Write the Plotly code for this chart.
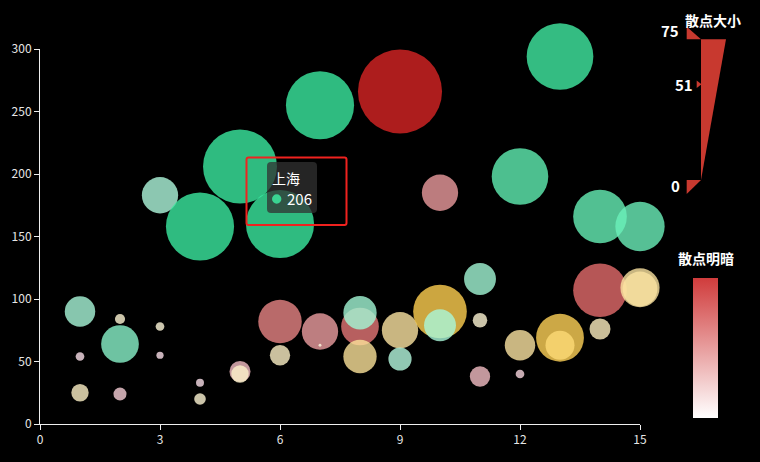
import plotly.graph_objects as go

# ---------------- data ----------------
# day index, AQI value, size value (散点大小 dimension), lightness value (散点明暗 dimension, 0..1)
sh_x = [1, 2, 3, 4, 5, 6, 7, 8, 9, 10, 11, 12, 13, 14, 15]
sh_y = [90, 64, 183, 158, 206, 160, 255, 89, 52, 79, 116, 198, 294, 166, 158]
sh_size = [21, 26, 25, 47, 51, 47, 47, 23, 16, 22, 22, 39, 46, 37, 34]
sh_light = [0.1, 0.35, 0.05, 1.0, 1.0, 1.0, 1.0, 0.15, 0.0, 0.1, 0.15, 0.7, 0.95, 0.65, 0.6]

bj_x = [1, 2, 3, 4, 5, 6, 7, 8, 9, 10, 11, 12, 14]
bj_y = [54, 24, 55, 33, 42, 82, 74, 78, 266, 185, 38, 40, 107]
bj_size = [6, 9, 5, 5.5, 14.5, 30, 25, 26, 58, 25, 14, 6, 37]
bj_light = [0.0, 0.1, 0.0, 0.0, 0.2, 0.54, 0.39, 0.6, 1.0, 0.41, 0.2, 0.05, 0.66]

gz_x = [1, 2, 3, 4, 5, 6, 7, 8, 9, 10, 11, 12, 13, 13, 14, 15, 15]
gz_y = [25, 84, 78, 20, 40, 55, 63, 54, 75, 90, 83, 63, 69, 63, 76, 109, 108]
gz_size = [12, 7, 6, 8, 12, 14, 2, 23, 25, 37, 10, 21, 33, 20, 14.5, 27, 24]
gz_light = [0.2, 0.1, 0.05, 0.1, 0.15, 0.2, 0.0, 0.5, 0.45, 1.0, 0.1, 0.45, 0.95, 0.75, 0.25, 0.45, 0.45]

x_ticks = [0, 3, 6, 9, 12, 15]
y_ticks = [0, 50, 100, 150, 200, 250, 300]

size_min, size_max, size_hover = 0, 75, 51
tooltip_name, tooltip_value = "上海", 206

# ---------------- figure ----------------
W, H = 760, 462
L, R, T, B = 40, 120, 49, 38
SIZE_SCALE = 1.45  # px diameter per size unit


def px(x):
    return (x - L) / (W - L - R)


def py(y):
    return (H - B - y) / (H - T - B)


FONT = "Noto Sans CJK SC"

fig = go.Figure()


def add_series(name, xs, ys, sizes, lights, scale):
    fig.add_trace(go.Scatter(
        x=xs, y=ys, name=name, mode="markers", cliponaxis=False,
        marker=dict(size=sizes, sizemode="diameter", sizeref=1 / SIZE_SCALE,
                    color=lights, colorscale=scale, cmin=0, cmax=1,
                    showscale=False, opacity=0.8, line=dict(width=0)),
        showlegend=False,
    ))


add_series("北京", bj_x, bj_y, bj_size, bj_light,
           [[0, "#fadee8"], [0.5, "#e88c8c"], [1, "#d82424"]])
add_series("广州", gz_x, gz_y, gz_size, gz_light,
           [[0, "#fffae1"], [0.5, "#fbe29a"], [1, "#ffd050"]])
add_series("上海", sh_x, sh_y, sh_size, sh_light,
           [[0, "#b5fae0"], [1, "#3beaa0"]])

# colour-lightness legend bar (散点明暗)
fig.add_trace(go.Scatter(
    x=[None], y=[None], mode="markers", showlegend=False, hoverinfo="skip",
    marker=dict(color=[0], colorscale=[[0, "#ffffff"], [1, "#d03c3c"]], cmin=0, cmax=1,
                showscale=True,
                colorbar=dict(x=px(693), xanchor="left", y=py(418), yanchor="bottom",
                              len=140 / (H - T - B), lenmode="fraction",
                              thickness=25, thicknessmode="pixels",
                              xpad=0, ypad=0, outlinewidth=0,
                              showticklabels=False, ticks="")),
))

shapes = []
RED = "#c8392f"
# size legend wedge
shapes.append(dict(type="path", xref="paper", yref="paper",
                   path=f"M {px(701)} {py(39.3)} L {px(726)} {py(39.3)} L {px(701)} {py(180)} Z",
                   fillcolor=RED, line=dict(width=0), layer="above"))
# handles
shapes.append(dict(type="path", xref="paper", yref="paper",
                   path=f"M {px(686.7)} {py(26.7)} L {px(686.7)} {py(39.3)} L {px(701)} {py(39.3)} Z",
                   fillcolor=RED, line=dict(width=0)))
shapes.append(dict(type="path", xref="paper", yref="paper",
                   path=f"M {px(686.7)} {py(180)} L {px(701)} {py(180)} L {px(686.7)} {py(194)} Z",
                   fillcolor=RED, line=dict(width=0)))
# hover indicator
y_ind = 180 - (size_hover - size_min) / (size_max - size_min) * (180 - 39.3)
shapes.append(dict(type="path", xref="paper", yref="paper",
                   path=f"M {px(696.7)} {py(y_ind - 3.8)} L {px(701.5)} {py(y_ind)} L {px(696.7)} {py(y_ind + 3.8)} Z",
                   fillcolor=RED, line=dict(width=0)))


def rounded(x0, y0, x1, y1, r):
    return (f"M {px(x0 + r)} {py(y0)} L {px(x1 - r)} {py(y0)} Q {px(x1)} {py(y0)} {px(x1)} {py(y0 + r)} "
            f"L {px(x1)} {py(y1 - r)} Q {px(x1)} {py(y1)} {px(x1 - r)} {py(y1)} "
            f"L {px(x0 + r)} {py(y1)} Q {px(x0)} {py(y1)} {px(x0)} {py(y1 - r)} "
            f"L {px(x0)} {py(y0 + r)} Q {px(x0)} {py(y0)} {px(x0 + r)} {py(y0)} Z")


# tooltip box
shapes.append(dict(type="path", xref="paper", yref="paper", path=rounded(267, 162, 317, 213, 4),
                   fillcolor="rgba(50,50,50,0.75)", line=dict(width=0), layer="above"))
shapes.append(dict(type="circle", xref="paper", yref="paper",
                   x0=px(272), x1=px(281.4), y0=py(194.3), y1=py(203.7),
                   fillcolor="#3ad492", line=dict(width=0), layer="above"))
# red highlight rectangle
shapes.append(dict(type="path", xref="paper", yref="paper", path=rounded(246.5, 157.5, 346.5, 225, 2),
                   fillcolor="rgba(0,0,0,0)", line=dict(color="#f0221f", width=2), layer="above"))

annotations = []


def txt(t, x, y, size, bold=False, color="#ffffff", anchor="center"):
    annotations.append(dict(text=f"<b>{t}</b>" if bold else t, x=px(x), y=py(y),
                            xref="paper", yref="paper", showarrow=False,
                            xanchor=anchor, yanchor="middle",
                            font=dict(family=FONT, size=size, color=color)))


txt("散点大小", 713, 20, 14, bold=True)
txt("散点明暗", 706, 258, 14, bold=True)
txt(str(size_max), 670, 31, 15, bold=True)
txt(str(size_hover), 684, y_ind, 15, bold=True)
txt(str(size_min), 675, 186, 15, bold=True)
txt(tooltip_name, 286, 178, 14)
txt(str(tooltip_value), 299, 198.5, 15)

axis_common = dict(showline=True, linecolor="#eeeeee", linewidth=1, ticks="outside",
                   ticklen=5, tickcolor="#eeeeee", showgrid=False, zeroline=False,
                   tickfont=dict(family=FONT, size=12, color="#e6e6e6"))

fig.update_layout(
    width=W, height=H, margin=dict(l=L, r=R, t=T, b=B, autoexpand=False),
    paper_bgcolor="#000000", plot_bgcolor="#000000",
    xaxis=dict(range=[0, 15], tickvals=x_ticks, **axis_common),
    yaxis=dict(range=[0, 300], tickvals=y_ticks, **axis_common),
    shapes=shapes, annotations=annotations,
    font=dict(family=FONT, color="#ffffff"),
    hovermode="closest",
)

fig.write_html("out.html", config={"displayModeBar": False},
               post_script="document.body.style.margin='0';document.body.style.background='#000';")
